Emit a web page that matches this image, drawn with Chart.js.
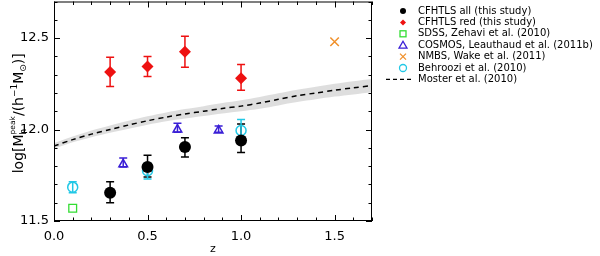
<!DOCTYPE html>
<html>
<head>
<meta charset="utf-8">
<script src="https://cdn.jsdelivr.net/npm/chart.js@4.4.1/dist/chart.umd.min.js"></script>
<style>
  html, body { margin: 0; padding: 0; background: #fff; overflow: hidden; }
  #clip { width: 600px; height: 256px; overflow: hidden; }
  /* canvas is 6px taller and shifted up, so the plot frame can reach the top edge */
  #wrap { position: relative; top: -6px; width: 600px; height: 262px; }
</style>
</head>
<body>
<div id="clip"><div id="wrap"><canvas id="chart"></canvas></div></div>
<script>
// ---- data ----
const allZ = [0.3, 0.5, 0.7, 1.0];
const allM = [11.655, 11.795, 11.905, 11.94];
const allLo = [11.60, 11.74, 11.85, 11.875];
const allHi = [11.715, 11.86, 11.955, 12.03];

const redZ = [0.3, 0.5, 0.7, 1.0];
const redM = [12.315, 12.345, 12.425, 12.28];
const redLo = [12.235, 12.29, 12.34, 12.215];
const redHi = [12.395, 12.40, 12.51, 12.355];

const sdssZ = [0.1];
const sdssM = [11.57];

const cosmosZ = [0.37, 0.66, 0.88];
const cosmosM = [11.81, 12.0, 11.995];
const cosmosLo = [11.795, 11.985, 11.985];
const cosmosHi = [11.845, 12.035, 12.02];

const nmbsZ = [1.5];
const nmbsM = [12.48];

const behrooziZ = [0.1, 0.5, 1.0];
const behrooziM = [11.685, 11.775, 11.995];
const behrooziLo = [11.655, 11.73, 11.96];
const behrooziHi = [11.715, 11.815, 12.055];

const mosterZ = [0.0, 0.1, 0.2, 0.3, 0.4, 0.5, 0.6, 0.7, 0.8, 0.9, 1.0, 1.1, 1.2, 1.3, 1.4, 1.5, 1.6, 1.7];
const mosterM = [11.91, 11.945, 11.975, 12.0, 12.025, 12.048, 12.068, 12.085, 12.1, 12.115, 12.128, 12.145, 12.165, 12.185, 12.2, 12.215, 12.228, 12.24];
const mosterHi = [11.925, 11.962, 11.995, 12.022, 12.048, 12.072, 12.093, 12.112, 12.128, 12.145, 12.16, 12.178, 12.198, 12.218, 12.234, 12.25, 12.264, 12.276];
const mosterLo = [11.895, 11.93, 11.958, 11.982, 12.004, 12.026, 12.045, 12.06, 12.074, 12.088, 12.1, 12.114, 12.132, 12.15, 12.165, 12.18, 12.192, 12.204];

const xTicks = [0.0, 0.5, 1.0, 1.5];
const yTicks = [11.5, 12.0, 12.5];

const legendLabels = [
  'CFHTLS all (this study)',
  'CFHTLS red (this study)',
  'SDSS, Zehavi et al. (2010)',
  'COSMOS, Leauthaud et al. (2011b)',
  'NMBS, Wake et al. (2011)',
  'Behroozi et al. (2010)',
  'Moster et al. (2010)'
];

const RED = '#ee1111';
const GREEN = '#33dd33';
const BLUE = '#3a1fd6';
const ORANGE = '#f0902a';
const CYAN = '#22c8e6';
const FONT = '"DejaVu Sans", sans-serif';
const SHIFT = 6; // matches the css offset of #wrap

function pts(xs, ys) {
  return xs.map((x, i) => ({ x: x, y: ys[i] }));
}

// error bars drawn behind the markers
const errorBars = {
  id: 'errorBars',
  beforeDatasetsDraw(chart) {
    const { ctx, scales: { x, y } } = chart;
    const sets = [
      [allZ, allLo, allHi, '#000'],
      [redZ, redLo, redHi, RED],
      [cosmosZ, cosmosLo, cosmosHi, BLUE],
      [behrooziZ, behrooziLo, behrooziHi, CYAN]
    ];
    ctx.save();
    ctx.lineWidth = 1.5;
    sets.forEach(([zs, lo, hi, col]) => {
      ctx.strokeStyle = col;
      zs.forEach((z, i) => {
        const px = x.getPixelForValue(z);
        const y1 = y.getPixelForValue(lo[i]);
        const y2 = y.getPixelForValue(hi[i]);
        ctx.beginPath();
        ctx.moveTo(px, y1); ctx.lineTo(px, y2);
        ctx.moveTo(px - 4, y1); ctx.lineTo(px + 4, y1);
        ctx.moveTo(px - 4, y2); ctx.lineTo(px + 4, y2);
        ctx.stroke();
      });
    });
    ctx.restore();
  }
};

// IDL style frame with inward ticks on all sides, y labels, y title and legend
const frame = {
  id: 'frame',
  afterDraw(chart) {
    const { ctx, chartArea: a, scales: { x, y } } = chart;
    ctx.save();
    ctx.strokeStyle = '#000';
    ctx.lineWidth = 1;
    ctx.strokeRect(a.left + 0.5, a.top + 0.5, a.right - a.left - 1, a.bottom - a.top - 1);
    ctx.beginPath();
    for (let v = 0; v <= 17; v++) {
      const px = Math.round(x.getPixelForValue(v / 10)) + 0.5;
      const len = v % 5 === 0 ? 6 : 3.5;
      ctx.moveTo(px, a.bottom); ctx.lineTo(px, a.bottom - len);
      ctx.moveTo(px, a.top); ctx.lineTo(px, a.top + len);
    }
    for (let v = 115; v <= 127; v++) {
      const py = Math.round(y.getPixelForValue(v / 10)) + 0.5;
      const len = v % 5 === 0 ? 6 : 3.5;
      ctx.moveTo(a.left, py); ctx.lineTo(a.left + len, py);
      ctx.moveTo(a.right, py); ctx.lineTo(a.right - len, py);
    }
    ctx.stroke();

    // y tick labels
    ctx.fillStyle = '#000';
    ctx.font = '13px ' + FONT;
    ctx.textAlign = 'right';
    ctx.textBaseline = 'middle';
    yTicks.forEach(v => ctx.fillText(v.toFixed(1), a.left - 5, y.getPixelForValue(v)));
    ctx.textAlign = 'left';

    // y axis title with sub/superscripts
    const parts = [
      ['log[M', 14, 0], ['h', 9, 3], ['peak', 7.5, -8], ['/(h', 14, 0],
      ['\u22121', 9, -6], ['M', 14, 0], ['\u2299', 9, 3], [')]', 14, 0]
    ];
    let w = 0;
    parts.forEach((p, i) => {
      if (i === 1) return;
      ctx.font = p[1] + 'px ' + FONT; w += ctx.measureText(p[0]).width;
    });
    ctx.translate(19, (a.top + a.bottom) / 2 + 2);
    ctx.rotate(-Math.PI / 2);
    ctx.textBaseline = 'alphabetic';
    let cx = -w / 2;
    let subStart = 0;
    parts.forEach((p, i) => {
      ctx.font = p[1] + 'px ' + FONT;
      const tw = ctx.measureText(p[0]).width;
      if (i === 1) { subStart = cx; ctx.fillText(p[0], cx, 4 + p[2]); return; }
      if (i === 2) { ctx.fillText(p[0], subStart, 4 + p[2]); cx = subStart + tw; return; }
      ctx.fillText(p[0], cx, 4 + p[2]);
      cx += tw;
    });
    ctx.restore();

    // legend
    ctx.save();
    const lx = 403, tx = 418;
    ctx.font = '10px ' + FONT;
    ctx.textBaseline = 'middle';
    legendLabels.forEach((lab, i) => {
      const ly = SHIFT + 11 + i * 11.4;
      ctx.fillStyle = '#000';
      ctx.fillText(lab, tx, ly);
      ctx.lineWidth = 1.3;
      if (i === 0) { ctx.beginPath(); ctx.arc(lx, ly, 3, 0, 2 * Math.PI); ctx.fill(); }
      if (i === 1) { ctx.fillStyle = RED; ctx.beginPath(); ctx.moveTo(lx, ly - 3); ctx.lineTo(lx + 3, ly); ctx.lineTo(lx, ly + 3); ctx.lineTo(lx - 3, ly); ctx.fill(); }
      if (i === 2) { ctx.strokeStyle = GREEN; ctx.strokeRect(lx - 3, ly - 3, 6, 6); }
      if (i === 3) { ctx.strokeStyle = BLUE; ctx.beginPath(); ctx.moveTo(lx, ly - 4); ctx.lineTo(lx + 4, ly + 3); ctx.lineTo(lx - 4, ly + 3); ctx.closePath(); ctx.stroke(); }
      if (i === 4) { ctx.strokeStyle = ORANGE; ctx.beginPath(); ctx.moveTo(lx - 3, ly - 3); ctx.lineTo(lx + 3, ly + 3); ctx.moveTo(lx + 3, ly - 3); ctx.lineTo(lx - 3, ly + 3); ctx.stroke(); }
      if (i === 5) { ctx.strokeStyle = CYAN; ctx.beginPath(); ctx.arc(lx, ly, 3.5, 0, 2 * Math.PI); ctx.stroke(); }
      if (i === 6) { ctx.strokeStyle = '#000'; ctx.setLineDash([4, 3]); ctx.beginPath(); ctx.moveTo(386, ly); ctx.lineTo(412, ly); ctx.stroke(); }
    });
    ctx.restore();
  }
};

new Chart(document.getElementById('chart'), {
  type: 'scatter',
  data: {
    datasets: [
      { label: 'band hi', type: 'line', order: 20, data: pts(mosterZ, mosterHi), borderWidth: 0, pointRadius: 0, fill: false, tension: 0.3 },
      { label: 'band lo', type: 'line', order: 19, data: pts(mosterZ, mosterLo), borderWidth: 0, pointRadius: 0, fill: '-1', backgroundColor: 'rgba(205,205,205,0.65)', tension: 0.3 },
      { label: legendLabels[6], type: 'line', order: 10, data: pts(mosterZ, mosterM), borderColor: '#000', borderWidth: 1.5, borderDash: [5, 4], pointRadius: 0, fill: false, tension: 0.3 },
      { label: legendLabels[2], order: 6, data: pts(sdssZ, sdssM), pointStyle: 'rect', pointRadius: 5.5, borderColor: GREEN, backgroundColor: 'rgba(0,0,0,0)', borderWidth: 1.3 },
      { label: legendLabels[3], order: 5, data: pts(cosmosZ, cosmosM), pointStyle: 'triangle', pointRadius: 5, borderColor: BLUE, backgroundColor: 'rgba(0,0,0,0)', borderWidth: 1.5 },
      { label: legendLabels[5], order: 3, data: pts(behrooziZ, behrooziM), pointStyle: 'circle', pointRadius: 5, borderColor: CYAN, backgroundColor: 'rgba(0,0,0,0)', borderWidth: 1.5 },
      { label: legendLabels[4], order: 4, data: pts(nmbsZ, nmbsM), pointStyle: 'crossRot', pointRadius: 6, borderColor: ORANGE, borderWidth: 1.5 },
      { label: legendLabels[0], order: 2, data: pts(allZ, allM), pointStyle: 'circle', pointRadius: 6, borderColor: '#000', backgroundColor: '#000', borderWidth: 0 },
      { label: legendLabels[1], order: 1, data: pts(redZ, redM), pointStyle: 'rectRot', pointRadius: 6, borderColor: RED, backgroundColor: RED, borderWidth: 0 }
    ]
  },
  options: {
    responsive: true,
    maintainAspectRatio: false,
    animation: false,
    events: [],
    layout: { padding: { left: 0, right: 228, top: 1, bottom: 0 } },
    plugins: { legend: { display: false }, tooltip: { enabled: false } },
    scales: {
      x: {
        type: 'linear', min: 0, max: 1.7,
        grid: { display: false, drawTicks: false },
        border: { display: false },
        afterBuildTicks: s => { s.ticks = xTicks.map(v => ({ value: v })); },
        afterFit: s => { s.height = 35; },
        ticks: { padding: 8, color: '#000', font: { family: FONT, size: 13 }, maxRotation: 0, callback: v => v.toFixed(1) },
        title: { display: true, text: 'z', color: '#000', font: { family: FONT, size: 11 }, padding: { top: 0, bottom: 0 } }
      },
      y: {
        type: 'linear', min: 11.5, max: 12.7,
        grid: { display: false, drawTicks: false },
        border: { display: false },
        afterBuildTicks: s => { s.ticks = yTicks.map(v => ({ value: v })); },
        afterFit: s => { s.width = 54; },
        ticks: { display: false }
      }
    }
  },
  plugins: [errorBars, frame]
});
</script>
</body>
</html>
